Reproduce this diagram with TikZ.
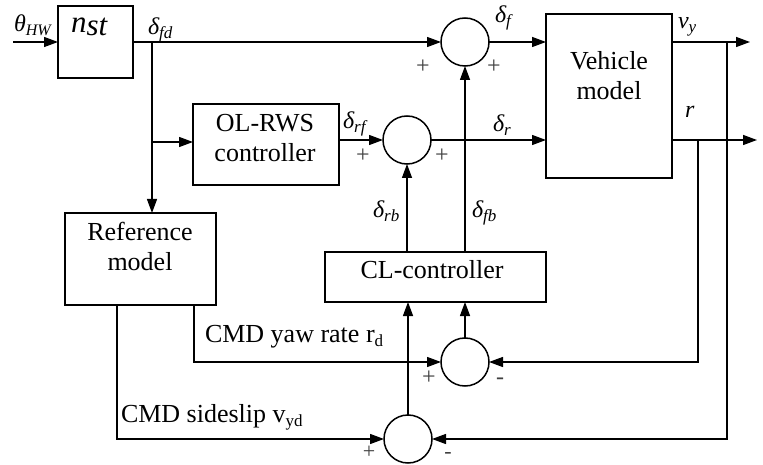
\documentclass[tikz,border=0pt]{standalone}
\usepackage{fontspec}
\setmainfont{LiberationSerif}[Extension=.ttf, UprightFont=*-Regular, ItalicFont=*-Italic, BoldFont=*-Bold, BoldItalicFont=*-BoldItalic]
\usetikzlibrary{arrows.meta}
\newcommand\lsub[2][17]{\raisebox{-4pt}{\fontsize{#1}{#1}\selectfont #2}}
\begin{document}
\begin{tikzpicture}[x=1pt,y=-1pt,
  every node/.style={font=\fontsize{26}{30}\selectfont, inner sep=0pt, outer sep=0pt},
  blk/.style={draw, line width=1.5pt, rectangle},
  sumc/.style={draw, circle, line width=1.5pt, minimum size=48pt},
  conn/.style={line width=1.3pt},
  arr/.style={conn, -{Triangle[length=14pt,width=10pt]}},
  sgn/.style={text=black!75, font=\fontsize{24}{24}\selectfont, anchor=base},
  lbl/.style={font=\fontsize{24}{24}\selectfont\itshape, anchor=base west},
  txt/.style={align=center}]
\useasboundingbox (0,0) rectangle (763,465);

% blocks
\node[blk, minimum width=75pt, minimum height=72pt] (nst) at (95.5,42) {};
\node[blk, minimum width=146pt, minimum height=81pt] (ol) at (266,144.5) {};
\node[blk, minimum width=151pt, minimum height=92pt] (ref) at (140.5,259) {};
\node[blk, minimum width=126pt, minimum height=164pt] (veh) at (609,96) {};
\node[blk, minimum width=221pt, minimum height=50pt] (cl) at (435.5,277) {};

% block texts
\node[font=\fontsize{31}{31}\selectfont\itshape, anchor=base west] (nsttxt) at (71,33) {n\raisebox{-3pt}{st}};
\node[txt] (oltxt) at (265,138) {OL-RWS\\controller};
\node[txt] (reftxt) at (140,246) {Reference\\model};
\node[txt] (vehtxt) at (609,76) {Vehicle\\model};
\node[anchor=base] (cltxt) at (432,278) {CL-controller};

% summing junctions
\node[sumc] (s1) at (465,42) {};
\node[sumc] (s2) at (407,140) {};
\node[sumc] (s3) at (465,362) {};
\node[sumc] (s4) at (408,439) {};

% coordinates
\coordinate (in) at (13,42);
\coordinate (b1) at (152,42);
\coordinate (b2) at (152,142);
\coordinate (vyo) at (750,42);
\coordinate (ro) at (757,140);
\coordinate (rf) at (698,140);
\coordinate (vf) at (727,42);
\coordinate (rdo) at (194,305);
\coordinate (vdo) at (117,305);

% connectors
\draw[arr] (in) -- (nst.west);
\draw[arr] (nst.east) -- (s1.west);
\draw[arr] (b1) -- (b1 |- ref.north);
\draw[arr] (b2) -- (b2 -| ol.west);
\draw[arr] (s2 -| ol.east) -- (s2.west);
\draw[arr] (s1.east) -- (s1 -| veh.west);
\draw[arr] (s2.east) -- (s2 -| veh.west);
\draw[arr] (s2 |- cl.north) -- (s2.south);
\draw[arr] (s1 |- cl.north) -- (s1.south);
\draw[arr] (s1 -| veh.east) -- (vyo);
\draw[arr] (s2 -| veh.east) -- (ro);
\draw[arr] (rf) |- (s3.east);
\draw[arr] (vf) |- (s4.east);
\draw[arr] (rdo) |- (s3.west);
\draw[arr] (vdo) |- (s4.west);
\draw[arr] (s3.north) -- (s3 |- cl.south);
\draw[arr] (s4.north) -- (s4 |- cl.south);

% signal labels
\node[lbl] (lth) at (14,32) {θ\lsub[16]{HW}};
\node[lbl] (lfd) at (148,35) {δ\lsub{fd}};
\node[lbl] (lrf) at (343,129) {δ\lsub{rf}};
\node[lbl] (lf) at (495,23) {δ\lsub{f}};
\node[lbl] (lvy) at (678,29) {v\lsub{y}};
\node[lbl] (lr) at (685,118) {r};
\node[lbl] (ldr) at (493,132) {δ\lsub{r}};
\node[lbl] (lrb) at (373,218) {δ\lsub{rb}};
\node[lbl] (lfb) at (472,218) {δ\lsub{fb}};
\node[anchor=base west] (lyaw) at (205,342) {CMD yaw rate r\lsub{d}};
\node[anchor=base west] (lss) at (121,422) {CMD sideslip v\lsub{yd}};

% signs
\node[sgn] (p1) at (423,74) {+};
\node[sgn] (p2) at (494,74) {+};
\node[sgn] (p3) at (363,163) {+};
\node[sgn] (p4) at (442,163) {+};
\node[sgn] (p5) at (429,384) {+};
\node[sgn] (m5) at (500,384) {-};
\node[sgn, font=\fontsize{22}{22}\selectfont] (p6) at (369,458) {+};
\node[sgn, font=\fontsize{22}{22}\selectfont] (m6) at (448,458) {-};
\end{tikzpicture}
\end{document}
